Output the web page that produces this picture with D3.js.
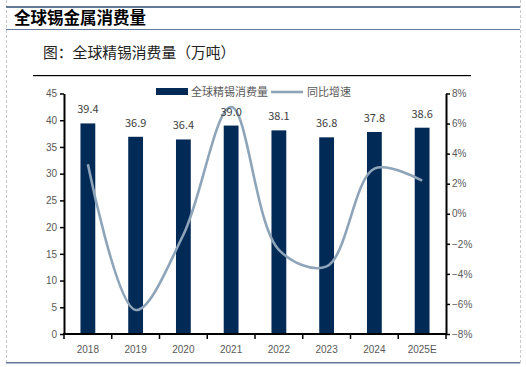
<!DOCTYPE html>
<html><head><meta charset="utf-8">
<script src="https://cdn.jsdelivr.net/npm/d3@7"></script>
<style>
body{margin:0;background:#fff;}
svg{display:block;}
</style></head>
<body>
<svg id="c" width="526" height="367"></svg>
<script>
const categories = ["2018","2019","2020","2021","2022","2023","2024","2025E"];
const consumption = [39.4, 36.9, 36.4, 39.0, 38.1, 36.8, 37.8, 38.6];
const growth = [3.3, -6.4, -1.4, 7.1, -2.4, -3.5, 3.0, 2.2];
const leftTicks = [0,5,10,15,20,25,30,35,40,45];
const rightTicks = [-8,-6,-4,-2,0,2,4,6,8];
const pageTitle = "全球锡金属消费量";
const chartTitle = "图：全球精锡消费量（万吨）";
const legendNames = ["全球精锡消费量","同比增速"];

const svg = d3.select("#c");
const barColor = "#022a57", lineColor = "#8ea4b8", frameColor = "#63799a";
const cjk = "'Noto Sans CJK SC', 'Noto Sans', sans-serif";
const sans = "'Liberation Sans', Arial, sans-serif";

// frame
svg.append("line").attr("x1",6.5).attr("x2",6.5).attr("y1",0).attr("y2",363)
  .attr("stroke","#c8c8c8").attr("stroke-dasharray","3,2");
svg.append("line").attr("x1",520.5).attr("x2",520.5).attr("y1",0).attr("y2",363)
  .attr("stroke","#c8c8c8").attr("stroke-dasharray","3,2");
svg.append("rect").attr("x",6).attr("y",6).attr("width",514).attr("height",2).attr("fill",frameColor);
svg.append("rect").attr("x",6).attr("y",29).attr("width",514).attr("height",1).attr("fill",frameColor);
svg.append("rect").attr("x",6).attr("y",362).attr("width",514).attr("height",1.5).attr("fill",frameColor);
svg.append("text").attr("x",14).attr("y",24).text(pageTitle)
  .attr("font-family",cjk).attr("font-weight","bold").attr("font-size",16.5).attr("fill","#000");
svg.append("text").attr("x",43).attr("y",58).text(chartTitle)
  .attr("font-family",cjk).attr("font-size",14.8).attr("fill","#222");
svg.append("rect").attr("x",33).attr("y",75).attr("width",438).attr("height",1.2).attr("fill","#000");

// scales
const x = d3.scaleBand().domain(categories).range([64,446]).paddingInner(0.69).paddingOuter(0.345);
const xb = d3.scaleBand().domain(categories).range([64,446]);
const yL = d3.scaleLinear().domain([0,45]).range([334,93.5]);
const yR = d3.scaleLinear().domain([-8,8]).range([334,93.5]);

// bars
svg.append("g").selectAll("rect").data(categories).join("rect")
  .attr("x",(d)=>x(d)).attr("width",x.bandwidth())
  .attr("y",(d,i)=>yL(consumption[i])).attr("height",(d,i)=>yL(0)-yL(consumption[i]))
  .attr("fill",barColor);

// line
const line = d3.line().x((d,i)=>xb(categories[i])+xb.bandwidth()/2).y(d=>yR(d)).curve(d3.curveCatmullRom.alpha(0.5));
svg.append("path").attr("d",line(growth)).attr("fill","none").attr("stroke",lineColor).attr("stroke-width",2.6);

// data labels
svg.append("g").selectAll("text").data(categories).join("text")
  .attr("x",(d)=>xb(d)+xb.bandwidth()/2).attr("y",(d,i)=>yL(consumption[i])-10)
  .attr("text-anchor","middle").attr("font-family",cjk).attr("font-size",11).attr("fill","#404040")
  .text((d,i)=>consumption[i].toFixed(1));

// axes
function styleAxis(g){
  g.selectAll(".domain").attr("stroke","#000").attr("stroke-width",2);
  g.selectAll(".tick line").attr("stroke","#000").attr("stroke-width",1.5);
  g.selectAll(".tick text").attr("font-family",sans).attr("font-size",10).attr("fill","#595959");
}
const gl = svg.append("g").attr("transform","translate(64,0)")
  .call(d3.axisLeft(yL).tickValues(leftTicks).tickSize(4).tickSizeOuter(0).tickPadding(3));
styleAxis(gl);
const gr = svg.append("g").attr("transform","translate(446,0)")
  .call(d3.axisRight(yR).tickValues(rightTicks).tickSize(4).tickSizeOuter(0).tickPadding(2).tickFormat(d=>d+"%"));
styleAxis(gr);
gr.selectAll(".tick text").text(d=>(d<0?"\u2212"+(-d):d)+"%");
const gb = svg.append("g").attr("transform","translate(0,334)");
gb.append("line").attr("x1",63).attr("x2",447).attr("y1",0).attr("y2",0).attr("stroke","#000").attr("stroke-width",2);
gb.selectAll("line.t").data(d3.range(categories.length+1)).join("line").attr("class","t")
  .attr("x1",i=>64+i*xb.step()).attr("x2",i=>64+i*xb.step()).attr("y1",0).attr("y2",5)
  .attr("stroke","#000").attr("stroke-width",1.5);
gb.selectAll("text").data(categories).join("text")
  .attr("x",d=>xb(d)+xb.bandwidth()/2).attr("y",19).attr("text-anchor","middle")
  .attr("font-family",sans).attr("font-size",10).attr("fill","#595959").text(d=>d);

// legend
const lg = svg.append("g");
lg.append("rect").attr("x",156).attr("y",88).attr("width",32).attr("height",7).attr("fill",barColor);
lg.append("text").attr("x",191).attr("y",96).text(legendNames[0])
  .attr("font-family",cjk).attr("font-size",11).attr("fill","#595959");
lg.append("line").attr("x1",271).attr("x2",303).attr("y1",92).attr("y2",92).attr("stroke",lineColor).attr("stroke-width",2.6);
lg.append("text").attr("x",307).attr("y",96).text(legendNames[1])
  .attr("font-family",cjk).attr("font-size",11).attr("fill","#595959");
</script>
</body></html>
